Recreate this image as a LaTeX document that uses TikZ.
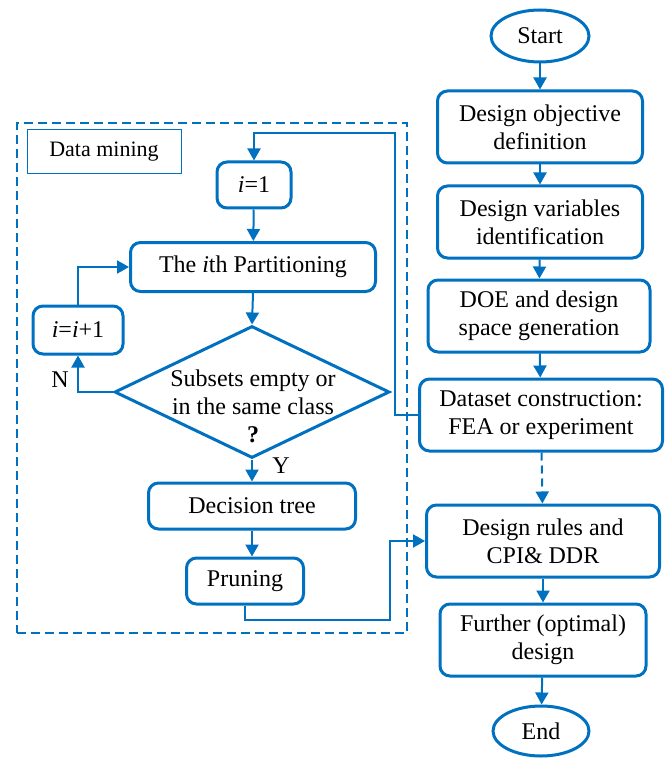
\documentclass[tikz,border=0pt]{standalone}
\usepackage{fontspec}
\setmainfont{Liberation Serif}
\usetikzlibrary{arrows.meta, shapes.geometric}
\definecolor{flowblue}{HTML}{0070C0}
\tikzset{
    box/.style={draw=flowblue, line width=3pt, rounded corners=10pt, align=center, inner sep=2pt, font=\fontsize{24}{28}\selectfont},
    term/.style={ellipse, draw=flowblue, line width=3pt, inner sep=0pt, font=\fontsize{24}{28}\selectfont},
    arr/.style={draw=flowblue, line width=2pt, -{Triangle[length=12pt,width=13pt]}},
    lbl/.style={font=\fontsize{24}{28}\selectfont},
}

\begin{document}
\begin{tikzpicture}[x=1pt, y=-1pt]
    \useasboundingbox (0,0) rectangle (667,759);
    % Data mining frame
    \node[draw=flowblue, line width=2pt, dash pattern=on 9pt off 5pt, minimum width=390pt, minimum height=510pt] (Mining-frame) at (212,378) {};
    \node[draw=flowblue, line width=1pt, minimum width=154pt, minimum height=44pt, font=\fontsize{22}{26}\selectfont] (Mining-label) at (104,152) {Data mining};
    % Right column
    \node[term, minimum width=98pt, minimum height=52pt] (Start) at (540,36) {Start};
    \foreach \i/\x/\y/\w/\txt in {1/540/127/205/{Design objective\\definition},
                                 2/540/222/205/{Design variables\\identification},
                                 3/539/316/222/{DOE and design\\space generation},
                                 4/541/415/243/{Dataset construction:\\FEA or experiment},
                                 5/543/541/233/{Design rules and\\CPI\& DDR},
                                 6/543/640/206/{Further (optimal)\\design}} {
        \node[box, minimum width=\w pt, minimum height=72pt] (Step-\i) at (\x,\y) {\txt};
    }
    \node[term, minimum width=96pt, minimum height=50pt] (End) at (541,731) {End};
    % Left column
    \node[box, minimum width=74pt, minimum height=46pt] (Init) at (254,185) {\textit{i}=1};
    \node[box, minimum width=245pt, minimum height=49pt] (Part) at (253,267) {The \textit{i}th Partitioning};
    \node[box, minimum width=90pt, minimum height=48pt] (Incr) at (78,330) {\textit{i}=\textit{i}+1};
    \node[diamond, draw=flowblue, line width=3pt, inner sep=0pt, minimum width=275pt, minimum height=132pt] (Check) at (252,392) {};
    \node[lbl, align=center] (Check-text) at (253,406) {Subsets empty or\\in the same class\\\textbf{?}};
    \node[box, minimum width=207pt, minimum height=46pt] (Tree) at (252,506) {Decision tree};
    \node[box, minimum width=117pt, minimum height=46pt] (Prune) at (245,581) {Pruning};
    \node[lbl] (No) at (60,380) {N};
    \node[lbl] (Yes) at (281,466) {Y};
    % Arrows
    \draw[arr] (Start) -- (Step-1);
    \foreach \i/\j in {1/2,2/3,3/4,5/6} {
        \draw[arr] (Step-\i) -- (Step-\j);
    }
    \draw[arr, dash pattern=on 8pt off 5pt] (Step-4) -- (Step-5);
    \draw[arr] (Step-6) -- (End);
    \coordinate (Loop-1) at (395,133);
    \draw[arr] (Step-4.west) -| (Loop-1) -| (Init.north);
    \draw[arr] (Init) -- (Part);
    \draw[arr] (Part.south) -- (Check.north);
    \draw[arr] (Check.west) -| (Incr.south);
    \draw[arr] (Incr.north) |- (Part.west);
    \draw[arr] (Check.south) -- (Tree.north);
    \draw[arr] (Tree.south) -- (Tree.south |- Prune.north);
    \coordinate (Bend-1) at (390,620);
    \draw[arr] (Prune.south) |- (Bend-1) |- (Step-5.west);
\end{tikzpicture}
\end{document}
